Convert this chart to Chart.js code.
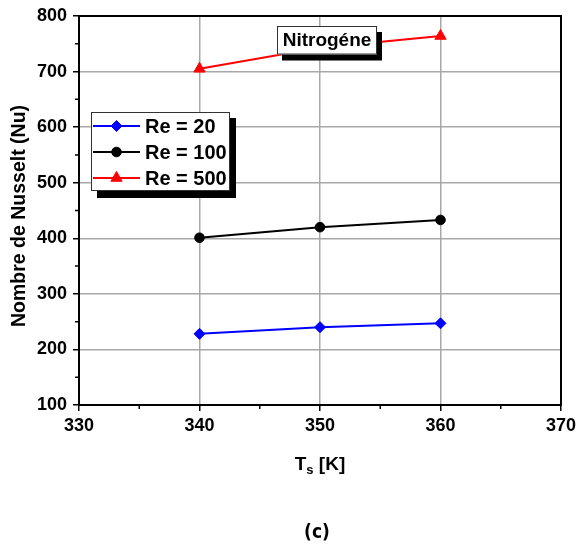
<!DOCTYPE html>
<html>
<head>
<meta charset="utf-8">
<script src="https://cdn.jsdelivr.net/npm/chart.js@4/dist/chart.umd.min.js"></script>
<style>
  html, body { margin: 0; padding: 0; background: #fff; }
  #wrap { width: 576px; height: 551px; }
</style>
</head>
<body>
<div id="wrap"><canvas id="c" width="576" height="551"></canvas></div>
<script>
// Surface temperature Ts [K]
const temperatures = [340, 350, 360];
// Nusselt number for each Reynolds number
const nuRe20 = [228, 240, 247];
const nuRe100 = [401, 420, 433];
const nuRe500 = [705, 743, 764];
const seriesLabels = ['Re = 20', 'Re = 100', 'Re = 500'];
const xTickValues = [330, 340, 350, 360, 370];
const yTickValues = [100, 200, 300, 400, 500, 600, 700, 800];
const gasName = 'Nitrogéne';
const panelTag = '(c)';

const FONT = '"Liberation Sans", Arial, Helvetica, sans-serif';

function pts(ys) { return temperatures.map((t, i) => ({ x: t, y: ys[i] })); }

const datasets = [
  { label: seriesLabels[0], data: pts(nuRe20), borderColor: '#0000ff', backgroundColor: '#0000ff',
    pointStyle: 'rectRot', pointRadius: 5.5 },
  { label: seriesLabels[1], data: pts(nuRe100), borderColor: '#000000', backgroundColor: '#000000',
    pointStyle: 'circle', pointRadius: 4.8 },
  { label: seriesLabels[2], data: pts(nuRe500), borderColor: '#ff0000', backgroundColor: '#ff0000',
    pointStyle: 'triangle', pointRadius: 6.5 }
].map(d => Object.assign({ borderWidth: 2, pointBorderWidth: 1, tension: 0, fill: false }, d));

function drawMarker(ctx, style, x, y, r, color) {
  ctx.save();
  ctx.fillStyle = color; ctx.strokeStyle = color; ctx.lineWidth = 1;
  if (Chart.helpers && Chart.helpers.drawPoint) {
    Chart.helpers.drawPoint(ctx, { pointStyle: style, radius: r, rotation: 0, borderWidth: 1 }, x, y);
  } else {
    ctx.beginPath(); ctx.arc(x, y, r, 0, Math.PI * 2); ctx.fill();
  }
  ctx.restore();
}

// Boxes with a hard drop shadow, legend and annotation, plus frame and minor ticks
const decorations = {
  id: 'decorations',
  afterDatasetsDraw(chart) {
    const ctx = chart.ctx;
    // gas label
    ctx.save();
    ctx.fillStyle = '#000';
    ctx.fillRect(282, 32, 100, 28.5);
    ctx.fillStyle = '#fff';
    ctx.fillRect(277, 26, 100, 28.5);
    ctx.strokeStyle = '#333'; ctx.lineWidth = 1;
    ctx.strokeRect(277.5, 26.5, 99, 27.5);
    ctx.fillStyle = '#000';
    ctx.font = 'bold 19px ' + FONT;
    ctx.textAlign = 'center'; ctx.textBaseline = 'middle';
    ctx.fillText(gasName, 327, 41);
    ctx.restore();

    // legend
    ctx.save();
    ctx.fillStyle = '#000';
    ctx.fillRect(97, 118, 139, 80);
    ctx.fillStyle = '#fff';
    ctx.fillRect(91, 112, 139, 79);
    ctx.strokeStyle = '#333'; ctx.lineWidth = 1;
    ctx.strokeRect(91.5, 112.5, 138, 78);
    chart.data.datasets.forEach((ds, i) => {
      const y = 126 + i * 26;
      ctx.strokeStyle = ds.borderColor; ctx.lineWidth = 2;
      ctx.beginPath(); ctx.moveTo(93, y); ctx.lineTo(140, y); ctx.stroke();
      drawMarker(ctx, ds.pointStyle, 116.5, y, ds.pointRadius, ds.borderColor);
      ctx.fillStyle = '#000';
      ctx.font = 'bold 20px ' + FONT;
      ctx.textAlign = 'left'; ctx.textBaseline = 'middle';
      ctx.fillText(ds.label, 145, y + 1);
    });
    ctx.restore();
  },
  afterDraw(chart) {
    const ctx = chart.ctx;
    const a = chart.chartArea;
    const xs = chart.scales.x, ys = chart.scales.y;
    ctx.save();
    // top and right frame
    ctx.strokeStyle = '#000'; ctx.lineWidth = 2;
    ctx.beginPath();
    ctx.moveTo(a.left - 1, a.top); ctx.lineTo(a.right, a.top); ctx.lineTo(a.right, a.bottom + 1);
    ctx.stroke();
    // minor ticks
    ctx.lineWidth = 1.5;
    ctx.beginPath();
    for (let v = xs.min + 5; v < xs.max; v += 10) {
      const px = xs.getPixelForValue(v);
      ctx.moveTo(px, a.bottom); ctx.lineTo(px, a.bottom + 4);
    }
    for (let v = ys.min + 50; v < ys.max; v += 100) {
      const py = ys.getPixelForValue(v);
      ctx.moveTo(a.left, py); ctx.lineTo(a.left - 4, py);
    }
    ctx.stroke();

    // axis titles
    ctx.fillStyle = '#000';
    ctx.font = 'bold 19px ' + FONT;
    ctx.textBaseline = 'alphabetic';
    const cx = (a.left + a.right) / 2;
    const base = 470;
    const tW = ctx.measureText('T').width;
    ctx.font = 'bold 13px ' + FONT;
    const sW = ctx.measureText('s').width;
    ctx.font = 'bold 19px ' + FONT;
    const rW = ctx.measureText(' [K]').width;
    let x0 = cx - (tW + sW + rW) / 2;
    ctx.textAlign = 'left';
    ctx.fillText('T', x0, base);
    ctx.font = 'bold 13px ' + FONT;
    ctx.fillText('s', x0 + tW, base + 4);
    ctx.font = 'bold 19px ' + FONT;
    ctx.fillText(' [K]', x0 + tW + sW, base);

    ctx.save();
    ctx.translate(20, 216);
    ctx.rotate(-Math.PI / 2);
    ctx.font = 'bold 19.5px ' + FONT;
    ctx.textAlign = 'center'; ctx.textBaseline = 'middle';
    ctx.fillText('Nombre de Nusselt (Nu)', 0, 0);
    ctx.restore();

    // panel tag
    ctx.font = 'bold 19px "DejaVu Sans Condensed", "DejaVu Sans", sans-serif';
    ctx.textAlign = 'center'; ctx.textBaseline = 'middle';
    ctx.fillText(panelTag, 317, 533);
    ctx.restore();
  }
};

const tickFont = { family: FONT, size: 18, weight: 'bold' };

new Chart(document.getElementById('c'), {
  type: 'line',
  data: { datasets },
  options: {
    responsive: false,
    animation: false,
    devicePixelRatio: 1,
    layout: { padding: { top: 16, right: 15, left: 0, bottom: 0 } },
    plugins: { legend: { display: false }, tooltip: { enabled: false }, title: { display: false } },
    scales: {
      x: {
        type: 'linear', min: 330, max: 370,
        afterBuildTicks: s => { s.ticks = xTickValues.map(v => ({ value: v })); },
        afterFit: s => { s.height = 146; s.paddingLeft = 0; s.paddingRight = 0; },
        grid: {
          color: c => (c.tick && (c.tick.value === 330 || c.tick.value === 370)) ? 'rgba(0,0,0,0)' : '#a8a8a8',
          lineWidth: 1.5, tickLength: 6, tickColor: '#000', tickWidth: 1.5
        },
        border: { color: '#000', width: 2 },
        ticks: { color: '#000', font: tickFont, padding: 4, maxRotation: 0, autoSkip: false }
      },
      y: {
        type: 'linear', min: 100, max: 800,
        afterBuildTicks: s => { s.ticks = yTickValues.map(v => ({ value: v })); },
        afterFit: s => { s.width = 79; s.paddingTop = 0; s.paddingBottom = 0; },
        grid: {
          color: c => (c.tick && (c.tick.value === 100 || c.tick.value === 800)) ? 'rgba(0,0,0,0)' : '#a8a8a8',
          lineWidth: 1.5, tickLength: 6, tickColor: '#000', tickWidth: 1.5
        },
        border: { color: '#000', width: 2 },
        ticks: { color: '#000', font: tickFont, padding: 6, autoSkip: false }
      }
    }
  },
  plugins: [decorations]
});
</script>
</body>
</html>
